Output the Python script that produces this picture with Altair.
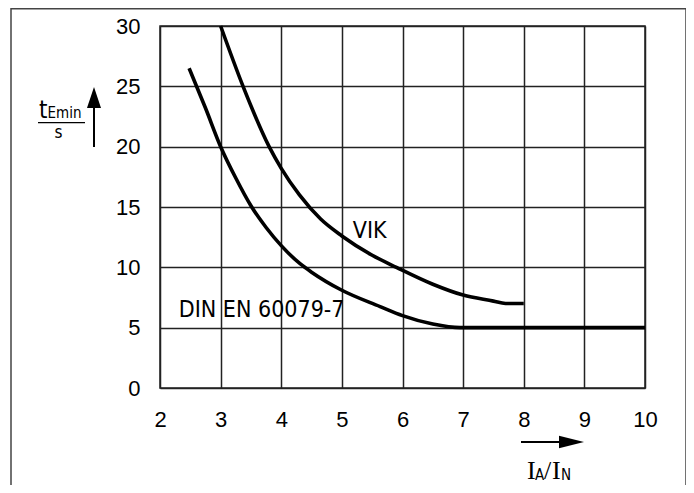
import altair as alt
import pandas as pd

# ---- data ----
din_x = [2.48, 2.75, 3.0, 3.25, 3.5, 3.75, 4.0, 4.31, 4.5, 5.0, 5.63, 6.0, 6.5, 6.95, 10.0]
din_y = [26.5, 23.2, 20.0, 17.4, 15.1, 13.3, 11.8, 10.3, 9.6, 8.1, 6.75, 6.0, 5.3, 5.0, 5.0]
vik_x = [3.0, 3.37, 3.8, 4.0, 4.3, 4.65, 5.0, 5.5, 5.9, 6.5, 7.0, 7.5, 7.7, 8.0]
vik_y = [30.0, 25.0, 20.0, 18.2, 16.0, 14.0, 12.6, 11.0, 10.0, 8.6, 7.7, 7.2, 7.0, 7.0]
x_ticks = [2, 3, 4, 5, 6, 7, 8, 9, 10]
y_ticks = [0, 5, 10, 15, 20, 25, 30]
series_names = ["DIN EN 60079-7", "VIK"]

rows = []
for i, (xv, yv) in enumerate(zip(din_x, din_y)):
    rows.append({"series": series_names[0], "x": xv, "y": yv, "i": i})
for i, (xv, yv) in enumerate(zip(vik_x, vik_y)):
    rows.append({"series": series_names[1], "x": xv, "y": yv, "i": i})
df = pd.DataFrame(rows)

SANS = "Liberation Sans"
NARROW = "DejaVu Sans Condensed, Liberation Sans"
SERIF = "Liberation Serif"
GRID = "#222222"
INK = "#000000"

xscale = alt.Scale(domain=[2, 10], nice=False, zero=False)
yscale = alt.Scale(domain=[0, 30], nice=False, zero=False)

xaxis = alt.Axis(values=x_ticks, format="d", grid=True, domain=False, ticks=False, title=None,
                 labelFont=SANS, labelFontSize=22, labelColor=INK, labelPadding=21,
                 labelFlush=False, labelOverlap=False, gridColor=GRID, gridWidth=1.5,
                 gridOpacity=1)
yaxis = alt.Axis(values=y_ticks, format="d", grid=True, domain=False, ticks=False, title=None,
                 labelFont=SANS, labelFontSize=22, labelColor=INK, labelPadding=20,
                 labelFlush=False, labelOverlap=False, gridColor=GRID, gridWidth=1.5,
                 gridOpacity=1)

lines = alt.Chart(df).mark_line(interpolate="monotone", strokeWidth=3.6, color="black",
                                strokeCap="butt").encode(
    x=alt.X("x:Q", scale=xscale, axis=xaxis),
    y=alt.Y("y:Q", scale=yscale, axis=yaxis),
    detail="series:N",
    order="i:Q",
)

one = pd.DataFrame({"k": [0]})

vik_lbl = alt.Chart(one).mark_text(align="left", baseline="alphabetic", font=NARROW,
                                   fontSize=23, color=INK).encode(
    x=alt.datum(5.18), y=alt.datum(12.4), text=alt.value(series_names[1]))
din_lbl = alt.Chart(one).mark_text(align="left", baseline="alphabetic", font=NARROW,
                                   fontSize=23, color=INK).encode(
    x=alt.datum(2.31), y=alt.datum(5.9), text=alt.value(series_names[0]))

# frame around the figure
frame = alt.Chart(one).mark_rect(fillOpacity=0, stroke="#444", strokeWidth=1.5).encode(
    x=alt.value(-149), x2=alt.value(526), y=alt.value(-17.25), y2=alt.value(470))

# y title: t_Emin / s with up arrow
t_main = alt.Chart(one).mark_text(align="left", baseline="alphabetic", font=NARROW,
                                  fontSize=24, color=INK).encode(
    x=alt.value(-121), y=alt.value(92), text=alt.value("t"))
t_sub = alt.Chart(one).mark_text(align="left", baseline="alphabetic", font=NARROW,
                                 fontSize=15, color=INK).encode(
    x=alt.value(-112.5), y=alt.value(92), text=alt.value("Emin"))
frac = alt.Chart(one).mark_rule(color=INK, strokeWidth=1.2).encode(
    x=alt.value(-122), x2=alt.value(-75), y=alt.value(96.7))
t_unit = alt.Chart(one).mark_text(align="center", baseline="alphabetic", font=NARROW,
                                  fontSize=17, color=INK).encode(
    x=alt.value(-101.5), y=alt.value(112), text=alt.value("s"))
up_shaft = alt.Chart(one).mark_rule(color=INK, strokeWidth=2).encode(
    x=alt.value(-66), y=alt.value(76), y2=alt.value(121))
up_head = alt.Chart(one).mark_point(shape="M0,-1L0.667,1L-0.667,1Z", size=441, filled=True,
                                    fill=INK, strokeWidth=0, opacity=1).encode(
    x=alt.value(-66), y=alt.value(71.5))

# x title: I_A / I_N with right arrow
r_shaft = alt.Chart(one).mark_rule(color=INK, strokeWidth=2).encode(
    x=alt.value(361), x2=alt.value(401), y=alt.value(416))
r_head = alt.Chart(one).mark_point(shape="M1,0L-1,-0.5L-1,0.5Z", size=625, filled=True,
                                   fill=INK, strokeWidth=0, opacity=1).encode(
    x=alt.value(411.5), y=alt.value(416))


def txt(s, xpx, ypx, font, size):
    return alt.Chart(one).mark_text(align="left", baseline="alphabetic", font=font,
                                    fontSize=size, color=INK).encode(
        x=alt.value(xpx), y=alt.value(ypx), text=alt.value(s))


xt = [txt("I", 367, 453, SERIF, 26), txt("A", 375, 454, NARROW, 15),
      txt("/", 384, 453, SERIF, 26), txt("I", 392, 453, SERIF, 26),
      txt("N", 401, 454, NARROW, 15)]

chart = alt.layer(frame, lines, vik_lbl, din_lbl, t_main, t_sub, frac, t_unit,
                  up_shaft, up_head, r_shaft, r_head, *xt).properties(
    width=485, height=362,
    autosize=alt.AutoSizeParams(type="none"),
    padding={"left": 152, "top": 18, "right": 41, "bottom": 97},
    background="white",
).configure_view(stroke=GRID, strokeWidth=1.5)

chart.save("out.html", embed_options={"renderer": "svg", "actions": False})
